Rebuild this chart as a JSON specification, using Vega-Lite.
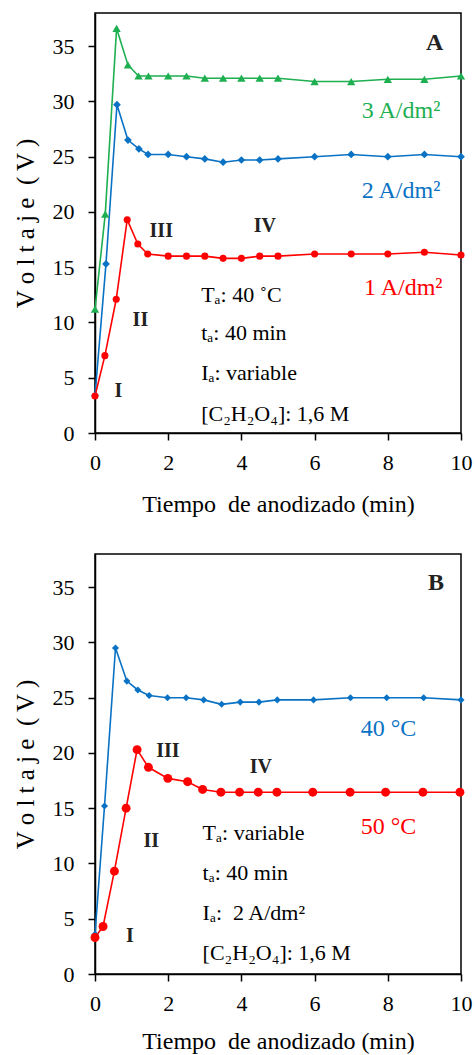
{
  "$schema": "https://vega.github.io/schema/vega-lite/v6.json",
  "padding": {"left": 12, "top": 12, "right": 5, "bottom": 0},
  "background": "white",
  "spacing": 36,
  "resolve": {"scale": {"color": "independent", "shape": "independent", "size": "independent"}},
  "config": {
    "font": "Liberation Serif",
    "view": {"stroke": "black", "strokeWidth": 1.5},
    "axis": {
      "domainColor": "black", "domainWidth": 1.5, "tickColor": "black", "tickWidth": 1.5, "tickSize": 7,
      "grid": false, "labelFont": "Liberation Serif", "labelFontSize": 22, "labelColor": "black",
      "titleFont": "Liberation Serif", "titleFontSize": 24, "titleFontWeight": "normal", "titleColor": "black"
    },
    "text": {"font": "Liberation Serif"}
  },
  "datasets": {
    "seriesA": [
      {"series": "3 A/dm²", "t": 0, "v": 11.2}, {"series": "3 A/dm²", "t": 0.28, "v": 19.8}, {"series": "3 A/dm²", "t": 0.59, "v": 36.6},
      {"series": "3 A/dm²", "t": 0.9, "v": 33.3}, {"series": "3 A/dm²", "t": 1.19, "v": 32.3}, {"series": "3 A/dm²", "t": 1.46, "v": 32.3},
      {"series": "3 A/dm²", "t": 2, "v": 32.3}, {"series": "3 A/dm²", "t": 2.5, "v": 32.3}, {"series": "3 A/dm²", "t": 3, "v": 32.1},
      {"series": "3 A/dm²", "t": 3.5, "v": 32.1}, {"series": "3 A/dm²", "t": 4, "v": 32.1}, {"series": "3 A/dm²", "t": 4.5, "v": 32.1},
      {"series": "3 A/dm²", "t": 5, "v": 32.1}, {"series": "3 A/dm²", "t": 6, "v": 31.8}, {"series": "3 A/dm²", "t": 7, "v": 31.8},
      {"series": "3 A/dm²", "t": 8, "v": 32.0}, {"series": "3 A/dm²", "t": 9, "v": 32.0}, {"series": "3 A/dm²", "t": 10, "v": 32.3},
      {"series": "2 A/dm²", "t": 0, "v": 3.4}, {"series": "2 A/dm²", "t": 0.3, "v": 15.3}, {"series": "2 A/dm²", "t": 0.6, "v": 29.7},
      {"series": "2 A/dm²", "t": 0.9, "v": 26.5}, {"series": "2 A/dm²", "t": 1.2, "v": 25.7}, {"series": "2 A/dm²", "t": 1.45, "v": 25.2},
      {"series": "2 A/dm²", "t": 2, "v": 25.2}, {"series": "2 A/dm²", "t": 2.5, "v": 25.0}, {"series": "2 A/dm²", "t": 3, "v": 24.8},
      {"series": "2 A/dm²", "t": 3.5, "v": 24.5}, {"series": "2 A/dm²", "t": 4, "v": 24.7}, {"series": "2 A/dm²", "t": 4.5, "v": 24.7},
      {"series": "2 A/dm²", "t": 5, "v": 24.8}, {"series": "2 A/dm²", "t": 6, "v": 25.0}, {"series": "2 A/dm²", "t": 7, "v": 25.2},
      {"series": "2 A/dm²", "t": 8, "v": 25.0}, {"series": "2 A/dm²", "t": 9, "v": 25.2}, {"series": "2 A/dm²", "t": 10, "v": 25.0},
      {"series": "1 A/dm²", "t": 0, "v": 3.35}, {"series": "1 A/dm²", "t": 0.27, "v": 7.0}, {"series": "1 A/dm²", "t": 0.58, "v": 12.1},
      {"series": "1 A/dm²", "t": 0.88, "v": 19.3}, {"series": "1 A/dm²", "t": 1.17, "v": 17.1}, {"series": "1 A/dm²", "t": 1.44, "v": 16.2},
      {"series": "1 A/dm²", "t": 2, "v": 16.0}, {"series": "1 A/dm²", "t": 2.5, "v": 16.0}, {"series": "1 A/dm²", "t": 3, "v": 16.0},
      {"series": "1 A/dm²", "t": 3.5, "v": 15.8}, {"series": "1 A/dm²", "t": 4, "v": 15.8}, {"series": "1 A/dm²", "t": 4.5, "v": 16.0},
      {"series": "1 A/dm²", "t": 5, "v": 16.0}, {"series": "1 A/dm²", "t": 6, "v": 16.2}, {"series": "1 A/dm²", "t": 7, "v": 16.2},
      {"series": "1 A/dm²", "t": 8, "v": 16.2}, {"series": "1 A/dm²", "t": 9, "v": 16.35}, {"series": "1 A/dm²", "t": 10, "v": 16.1}
    ],
    "seriesB": [
      {"series": "40 °C", "t": 0, "v": 3.6}, {"series": "40 °C", "t": 0.26, "v": 15.2}, {"series": "40 °C", "t": 0.56, "v": 29.5},
      {"series": "40 °C", "t": 0.87, "v": 26.5}, {"series": "40 °C", "t": 1.17, "v": 25.7}, {"series": "40 °C", "t": 1.48, "v": 25.2},
      {"series": "40 °C", "t": 1.98, "v": 25.0}, {"series": "40 °C", "t": 2.49, "v": 25.0}, {"series": "40 °C", "t": 2.97, "v": 24.8},
      {"series": "40 °C", "t": 3.46, "v": 24.4}, {"series": "40 °C", "t": 3.97, "v": 24.6}, {"series": "40 °C", "t": 4.48, "v": 24.6},
      {"series": "40 °C", "t": 4.98, "v": 24.8}, {"series": "40 °C", "t": 5.97, "v": 24.8}, {"series": "40 °C", "t": 6.98, "v": 25.0},
      {"series": "40 °C", "t": 7.97, "v": 25.0}, {"series": "40 °C", "t": 8.98, "v": 25.0}, {"series": "40 °C", "t": 10, "v": 24.8},
      {"series": "50 °C", "t": 0, "v": 3.3}, {"series": "50 °C", "t": 0.22, "v": 4.3}, {"series": "50 °C", "t": 0.53, "v": 9.3},
      {"series": "50 °C", "t": 0.85, "v": 15.0}, {"series": "50 °C", "t": 1.15, "v": 20.3}, {"series": "50 °C", "t": 1.46, "v": 18.7},
      {"series": "50 °C", "t": 1.99, "v": 17.7}, {"series": "50 °C", "t": 2.53, "v": 17.4}, {"series": "50 °C", "t": 2.94, "v": 16.7},
      {"series": "50 °C", "t": 3.44, "v": 16.45}, {"series": "50 °C", "t": 3.95, "v": 16.45}, {"series": "50 °C", "t": 4.46, "v": 16.45},
      {"series": "50 °C", "t": 4.97, "v": 16.45}, {"series": "50 °C", "t": 5.95, "v": 16.45}, {"series": "50 °C", "t": 6.97, "v": 16.45},
      {"series": "50 °C", "t": 7.94, "v": 16.45}, {"series": "50 °C", "t": 8.96, "v": 16.45}, {"series": "50 °C", "t": 9.97, "v": 16.45}
    ]
  },
  "vconcat": [
    {
      "width": 366, "height": 420,
      "encoding": {
        "x": {"field": "t", "type": "quantitative", "scale": {"domain": [0, 10], "nice": false},
              "axis": {"values": [0, 2, 4, 6, 8, 10], "labelFlush": false, "labelPadding": 12, "titlePadding": 19, "title": "Tiempo\u00a0 de anodizado (min)",
                       "labelFont": "Liberation Serif", "labelFontSize": 22, "titleFont": "Liberation Serif", "titleFontSize": 24, "titleFontWeight": "normal"}},
        "y": {"field": "v", "type": "quantitative", "scale": {"domain": [0, 38], "nice": false},
              "axis": {"values": [0, 5, 10, 15, 20, 25, 30, 35], "labelPadding": 14, "titlePadding": 14, "title": "\u00a0\u00a0\u00a0\u00a0\u00a0\u00a0\u00a0\u00a0\u00a0V o l t a j e \u00a0( V )",
                       "labelFont": "Liberation Serif", "labelFontSize": 22, "titleFont": "Liberation Serif", "titleFontSize": 25, "titleFontWeight": "normal"}}
      },
      "layer": [
        {"data": {"name": "seriesA"}, "mark": {"type": "line", "strokeWidth": 1.6},
         "encoding": {"color": {"field": "series", "type": "nominal", "legend": null,
           "scale": {"domain": ["3 A/dm²", "2 A/dm²", "1 A/dm²"], "range": ["#1DAF50", "#0A72C4", "#FF0000"]}}}},
        {"data": {"name": "seriesA"}, "mark": {"type": "point", "filled": true, "opacity": 1},
         "encoding": {
           "color": {"field": "series", "type": "nominal", "legend": null,
             "scale": {"domain": ["3 A/dm²", "2 A/dm²", "1 A/dm²"], "range": ["#1DAF50", "#0A72C4", "#FF0000"]}},
           "shape": {"field": "series", "type": "nominal", "legend": null,
             "scale": {"domain": ["3 A/dm²", "2 A/dm²", "1 A/dm²"], "range": ["triangle-up", "diamond", "circle"]}},
           "size": {"field": "series", "type": "nominal", "legend": null,
             "scale": {"domain": ["3 A/dm²", "2 A/dm²", "1 A/dm²"], "range": [70, 50, 80]}}}},
        {"data": {"values": [
            {"t": 7.29, "v": 29.1, "label": "3 A/dm²", "series": "3 A/dm²"},
            {"t": 7.29, "v": 21.9, "label": "2 A/dm²", "series": "2 A/dm²"},
            {"t": 7.35, "v": 13.1, "label": "1 A/dm²", "series": "1 A/dm²"}]},
         "mark": {"type": "text", "align": "left", "baseline": "middle", "fontSize": 24},
         "encoding": {"text": {"field": "label"},
           "color": {"field": "series", "type": "nominal", "legend": null,
             "scale": {"domain": ["3 A/dm²", "2 A/dm²", "1 A/dm²"], "range": ["#1DAF50", "#0A72C4", "#FF0000"]}}}},
        {"data": {"values": [
            {"t": 2.9, "v": 12.5, "label": "Tₐ: 40 ˚C"},
            {"t": 2.9, "v": 9.06, "label": "tₐ: 40 min"},
            {"t": 2.9, "v": 5.45, "label": "Iₐ: variable"},
            {"t": 2.9, "v": 1.69, "label": "[C₂H₂O₄]: 1,6 M"}]},
         "mark": {"type": "text", "align": "left", "baseline": "middle", "fontSize": 22, "color": "black"},
         "encoding": {"text": {"field": "label"}}},
        {"data": {"values": [
            {"t": 0.64, "v": 3.8, "label": "I"},
            {"t": 1.24, "v": 10.2, "label": "II"},
            {"t": 1.81, "v": 18.25, "label": "III"},
            {"t": 4.64, "v": 18.7, "label": "IV"}]},
         "mark": {"type": "text", "align": "center", "baseline": "middle", "fontSize": 20, "fontWeight": "bold", "color": "#222222"},
         "encoding": {"text": {"field": "label"}}},
        {"data": {"values": [{"t": 9.28, "v": 35.3, "label": "A"}]},
         "mark": {"type": "text", "align": "center", "baseline": "middle", "fontSize": 24, "fontWeight": "bold", "color": "#222222"},
         "encoding": {"text": {"field": "label"}}}
      ]
    },
    {
      "width": 366, "height": 420,
      "encoding": {
        "x": {"field": "t", "type": "quantitative", "scale": {"domain": [0, 10], "nice": false},
              "axis": {"values": [0, 2, 4, 6, 8, 10], "labelFlush": false, "labelPadding": 12, "titlePadding": 15, "title": "Tiempo\u00a0 de anodizado (min)",
                       "labelFont": "Liberation Serif", "labelFontSize": 22, "titleFont": "Liberation Serif", "titleFontSize": 24, "titleFontWeight": "normal"}},
        "y": {"field": "v", "type": "quantitative", "scale": {"domain": [0, 38], "nice": false},
              "axis": {"values": [0, 5, 10, 15, 20, 25, 30, 35], "labelPadding": 14, "titlePadding": 14, "title": "\u00a0\u00a0\u00a0\u00a0\u00a0\u00a0\u00a0\u00a0\u00a0V o l t a j e \u00a0( V )",
                       "labelFont": "Liberation Serif", "labelFontSize": 22, "titleFont": "Liberation Serif", "titleFontSize": 25, "titleFontWeight": "normal"}}
      },
      "layer": [
        {"data": {"name": "seriesB"}, "mark": {"type": "line", "strokeWidth": 1.6},
         "encoding": {"color": {"field": "series", "type": "nominal", "legend": null,
           "scale": {"domain": ["40 °C", "50 °C"], "range": ["#0A72C4", "#FF0000"]}}}},
        {"data": {"name": "seriesB"}, "mark": {"type": "point", "filled": true, "opacity": 1},
         "encoding": {
           "color": {"field": "series", "type": "nominal", "legend": null,
             "scale": {"domain": ["40 °C", "50 °C"], "range": ["#0A72C4", "#FF0000"]}},
           "shape": {"field": "series", "type": "nominal", "legend": null,
             "scale": {"domain": ["40 °C", "50 °C"], "range": ["diamond", "circle"]}},
           "size": {"field": "series", "type": "nominal", "legend": null,
             "scale": {"domain": ["40 °C", "50 °C"], "range": [50, 80]}}}},
        {"data": {"values": [
            {"t": 7.26, "v": 22.2, "label": "40 °C", "series": "40 °C"},
            {"t": 7.26, "v": 13.3, "label": "50 °C", "series": "50 °C"}]},
         "mark": {"type": "text", "align": "left", "baseline": "middle", "fontSize": 24},
         "encoding": {"text": {"field": "label"},
           "color": {"field": "series", "type": "nominal", "legend": null,
             "scale": {"domain": ["40 °C", "50 °C"], "range": ["#0A72C4", "#FF0000"]}}}},
        {"data": {"values": [
            {"t": 2.94, "v": 12.8, "label": "Tₐ: variable"},
            {"t": 2.94, "v": 9.1, "label": "tₐ: 40 min"},
            {"t": 2.94, "v": 5.5, "label": "Iₐ:\u00a0 2 A/dm²"},
            {"t": 2.94, "v": 1.9, "label": "[C₂H₂O₄]: 1,6 M"}]},
         "mark": {"type": "text", "align": "left", "baseline": "middle", "fontSize": 22, "color": "black"},
         "encoding": {"text": {"field": "label"}}},
        {"data": {"values": [
            {"t": 0.95, "v": 3.4, "label": "I"},
            {"t": 1.54, "v": 12.0, "label": "II"},
            {"t": 1.99, "v": 20.2, "label": "III"},
            {"t": 4.53, "v": 18.7, "label": "IV"}]},
         "mark": {"type": "text", "align": "center", "baseline": "middle", "fontSize": 20, "fontWeight": "bold", "color": "#222222"},
         "encoding": {"text": {"field": "label"}}},
        {"data": {"values": [{"t": 9.32, "v": 35.4, "label": "B"}]},
         "mark": {"type": "text", "align": "center", "baseline": "middle", "fontSize": 24, "fontWeight": "bold", "color": "#222222"},
         "encoding": {"text": {"field": "label"}}}
      ]
    }
  ]
}
